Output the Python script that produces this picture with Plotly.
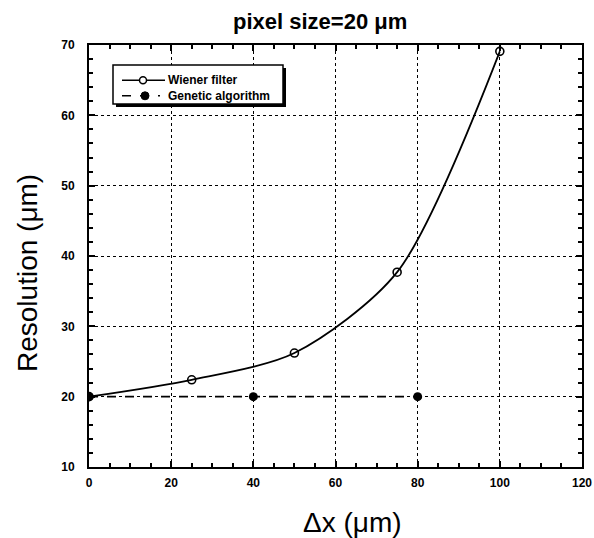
import plotly.graph_objects as go

wiener_x = [0, 25, 50, 75, 100]
wiener_y = [20, 22.4, 26.2, 37.7, 69.1]
genetic_x = [0, 40, 80]
genetic_y = [20, 20, 20]
x_ticks = [0, 20, 40, 60, 80, 100, 120]
y_ticks = [10, 20, 30, 40, 50, 60, 70]

title_text = "pixel size=20 \u03bcm"
x_title = "\u0394x (\u03bcm)"
y_title = "Resolution (\u03bcm)"
names = ["Wiener filter", "Genetic algorithm"]

FONT = "Liberation Sans, Arial, sans-serif"

# figure geometry (body margin removed by post_script)
OFF = 0
W, H = 594, 538
ML, MR, MT, MB = 89, 12, 45, 71
PW, PH = W - ML - MR, H - MT - MB


def px(xp):
    return (xp - OFF - ML) / PW


def py(yp):
    return (H - MB - (yp - OFF)) / PH


fig = go.Figure()
fig.add_trace(go.Scatter(
    x=wiener_x, y=wiener_y, mode="lines+markers", name=names[0],
    line=dict(color="black", width=1.8, shape="spline", smoothing=0.8),
    marker=dict(symbol="circle-open", size=8, color="black", line=dict(width=1.6)),
    showlegend=False,
))
fig.add_trace(go.Scatter(
    x=genetic_x, y=genetic_y, mode="lines+markers", name=names[1],
    line=dict(color="black", width=1.8, dash="dash"),
    marker=dict(symbol="circle", size=9, color="black"),
    showlegend=False,
))

axis_common = dict(
    showline=True, linecolor="black", linewidth=2, mirror="ticks",
    ticks="inside", ticklen=6, tickwidth=1.5, tickcolor="black",
    showgrid=True, gridcolor="black", gridwidth=1, griddash="dot",
    zeroline=False, automargin=False,
    tickfont=dict(family=FONT, size=12, color="black", weight="bold"),
)

fig.update_xaxes(
    range=[0, 120], tickvals=x_ticks, ticklabelstandoff=4,
    minor=dict(dtick=5, ticks="inside", ticklen=4, tickcolor="black", showgrid=False),
    **axis_common,
)
fig.update_yaxes(
    range=[10, 70], tickvals=y_ticks, ticklabelstandoff=10,
    minor=dict(dtick=2, ticks="inside", ticklen=4, tickcolor="black", showgrid=False),
    **axis_common,
)

# ---- legend box (drawn) ----
lx0, lx1, ly0, ly1 = 113, 283, 65, 104
fig.add_shape(type="rect", xref="paper", yref="paper",
              x0=px(lx0 + 3), x1=px(lx1 + 3), y0=py(ly1 + 3), y1=py(ly0 + 3),
              fillcolor="black", line=dict(width=0), layer="above")
fig.add_shape(type="rect", xref="paper", yref="paper",
              x0=px(lx0), x1=px(lx1), y0=py(ly1), y1=py(ly0),
              fillcolor="white", line=dict(color="black", width=1.5), layer="above")

LEG_FS = 12
mid_y = 88
row_y = [mid_y - 0.65 * LEG_FS, mid_y + 0.65 * LEG_FS]
# Wiener sample
fig.add_shape(type="line", xref="paper", yref="paper",
              x0=px(122), x1=px(165), y0=py(row_y[0]), y1=py(row_y[0]),
              line=dict(color="black", width=1.6), layer="above")
fig.add_shape(type="circle", xref="paper", yref="paper",
              xsizemode="pixel", ysizemode="pixel",
              xanchor=px(143), yanchor=py(row_y[0]), x0=-3.5, x1=3.5, y0=-3.5, y1=3.5,
              fillcolor="white", line=dict(color="black", width=1.5), layer="above")
# Genetic sample
fig.add_shape(type="line", xref="paper", yref="paper",
              x0=px(122), x1=px(160), y0=py(row_y[1]), y1=py(row_y[1]),
              line=dict(color="black", width=1.6, dash="dash"), layer="above")
fig.add_shape(type="circle", xref="paper", yref="paper",
              xsizemode="pixel", ysizemode="pixel",
              xanchor=px(145), yanchor=py(row_y[1]), x0=-4, x1=4, y0=-4, y1=4,
              fillcolor="black", line=dict(color="black", width=1), layer="above")

annotations = [dict(text="<br>".join(names), xref="paper", yref="paper",
                    x=px(167), y=py(mid_y), xanchor="left", yanchor="middle",
                    align="left", showarrow=False, borderpad=0,
                    font=dict(family=FONT, size=LEG_FS, color="black", weight="bold"))]

# titles
annotations.append(dict(text=title_text, xref="paper", yref="paper",
                        x=px(320), y=py(21), xanchor="center", yanchor="middle",
                        showarrow=False,
                        font=dict(family=FONT, size=22, color="black", weight="bold")))
annotations.append(dict(text=x_title, xref="paper", yref="paper",
                        x=px(352), y=py(522), xanchor="center", yanchor="middle",
                        showarrow=False,
                        font=dict(family=FONT, size=28, color="black")))
annotations.append(dict(text=y_title, xref="paper", yref="paper",
                        x=px(27), y=py(273), xanchor="center", yanchor="middle",
                        textangle=-90, showarrow=False,
                        font=dict(family=FONT, size=28, color="black")))

fig.update_layout(
    width=W, height=H,
    margin=dict(l=ML, r=MR, t=MT, b=MB),
    paper_bgcolor="white", plot_bgcolor="white",
    annotations=annotations,
    showlegend=False,
)

fig.write_html("out.html",
               config={"displayModeBar": False},
               post_script="document.body.style.margin='0';document.body.style.overflow='hidden';")
